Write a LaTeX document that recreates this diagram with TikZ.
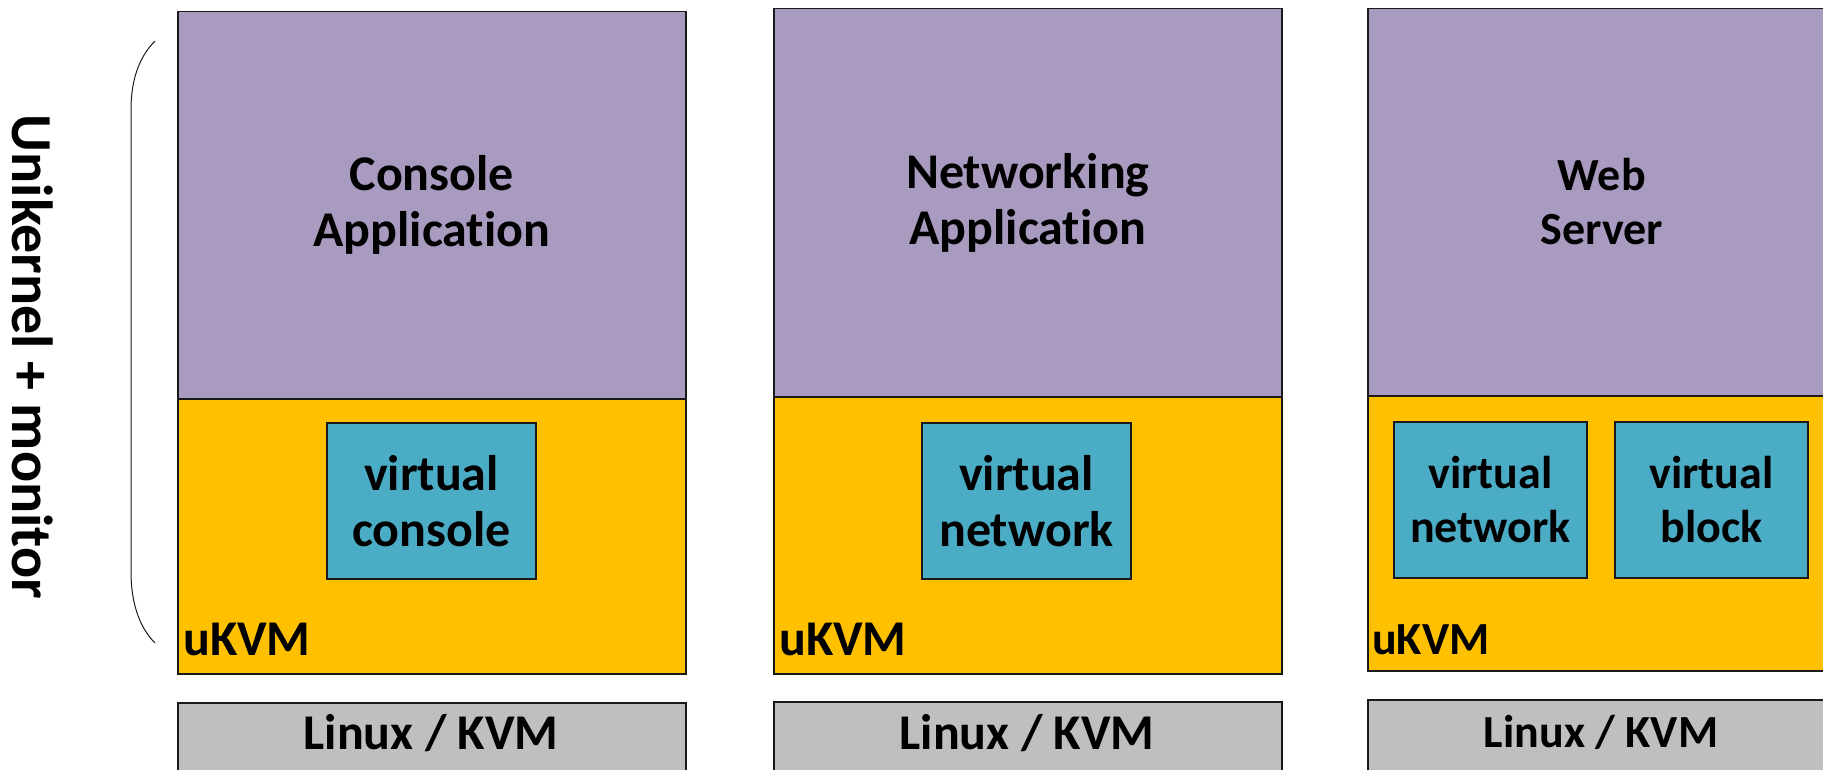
\documentclass[tikz,border=0pt]{standalone}
\usepackage{fontspec}
\setmainfont{Carlito}[Ligatures=NoCommon]
\definecolor{appcol}{HTML}{A99BC0}
\definecolor{vmmcol}{HTML}{FFC000}
\definecolor{devcol}{HTML}{4BACC6}
\definecolor{hostcol}{HTML}{BFBFBF}
\definecolor{edgecol}{HTML}{1A1A1A}
\newcommand{\bigfont}{\fontsize{50}{56}\selectfont\bfseries}
\newcommand{\midfont}{\fontsize{46}{54}\selectfont\bfseries}
\newcommand{\sidefont}{\fontsize{58}{64}\selectfont\bfseries}

\begin{document}
\begin{tikzpicture}[x=1pt,y=-1pt,
  layer/.style={draw=edgecol,line width=1.6pt,inner sep=0pt,anchor=north west,align=center,font=\bigfont},
  app/.style={layer,fill=appcol,minimum width=508pt},
  vmm/.style={layer,fill=vmmcol,minimum width=508pt},
  host/.style={layer,fill=hostcol,minimum width=508pt,minimum height=80pt},
  dev/.style={draw=edgecol,line width=1.6pt,fill=devcol,inner sep=0pt,align=center,font=\bigfont,minimum height=156pt},
  tag/.style={inner sep=0pt,anchor=base west,font=\bigfont},
  small/.style={font=\midfont}]
  \useasboundingbox (0,0) rectangle (1823,769);

  \node[app,minimum height=387pt] (app1) at (177,10.7) {Console\\Application};
  \node[vmm,minimum height=275pt] (vmm1) at (177,398) {};
  \node[dev,minimum width=209pt] (con1) at (431.5,501) {virtual\\console};
  \node[tag] (ukvm1) at (183,655) {uKVM};
  \node[host] (host1) at (177,702) {};
  \node[font=\bigfont,anchor=base] (linux1) at (431,749) {Linux / KVM};

  \node[app,minimum height=388pt] (app2) at (773,7.7) {Networking\\Application};
  \node[vmm,minimum height=277pt] (vmm2) at (773,396) {};
  \node[dev,minimum width=209pt] (net2) at (1026.5,501) {virtual\\network};
  \node[tag] (ukvm2) at (779,655) {uKVM};
  \node[host] (host2) at (773,701) {};
  \node[font=\bigfont,anchor=base] (linux2) at (1027,749) {Linux / KVM};

  \node[app,small,minimum width=468pt,minimum height=387pt] (app3) at (1367,7.7) {Web\\Server};
  \node[vmm,minimum width=468pt,minimum height=275pt] (vmm3) at (1367,395) {};
  \node[dev,small,minimum width=193pt] (net3) at (1490.5,500) {virtual\\network};
  \node[dev,small,minimum width=193pt] (blk3) at (1711.5,500) {virtual\\block};
  \node[tag,small] (ukvm3) at (1372,654) {uKVM};
  \node[host,minimum width=468pt] (host3) at (1367,699) {};
  \node[small,anchor=base] (linux3) at (1601,747) {Linux / KVM};

  \draw[edgecol,line width=1pt] (155,41) .. controls (138,58) and (131,82) .. (131,110) -- (131,572) .. controls (131,600) and (138,626) .. (155,643);
  \node[rotate=-90,font=\sidefont] (unik) at (33,357) {Unikernel + monitor};
\end{tikzpicture}
\end{document}
